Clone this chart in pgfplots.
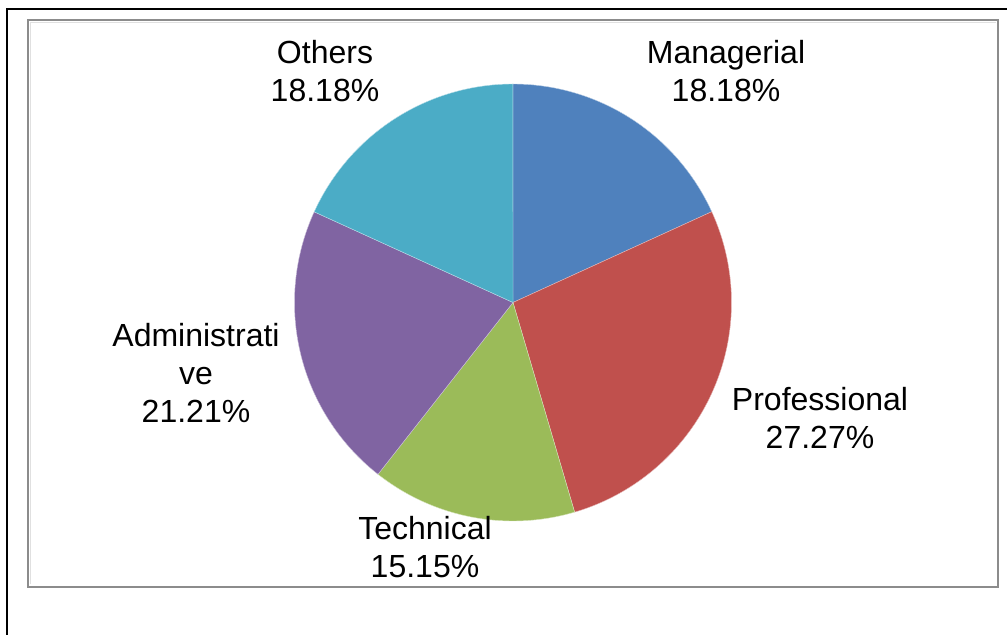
\documentclass[border=0pt]{standalone}
\usepackage{pgfplots}
\pgfplotsset{compat=1.18}
\usepackage{fontspec}
\setmainfont{Liberation Sans}
\definecolor{cMan}{HTML}{4F81BD}
\definecolor{cPro}{HTML}{C0504D}
\definecolor{cTec}{HTML}{9BBB59}
\definecolor{cAdm}{HTML}{8064A2}
\definecolor{cOth}{HTML}{4BACC6}
\definecolor{frame}{HTML}{8C8C8C}
% data (percent)
\def\vMan{18.18}
\def\vPro{27.27}
\def\vTec{15.15}
\def\vAdm{21.21}
\def\vOth{18.18}
\pgfmathsetmacro\aA{90}
\pgfmathsetmacro\aB{\aA-3.6*\vMan}
\pgfmathsetmacro\aC{\aB-3.6*\vPro}
\pgfmathsetmacro\aD{\aC-3.6*\vTec}
\pgfmathsetmacro\aE{\aD-3.6*\vAdm}
\pgfmathsetmacro\aF{\aE-3.6*\vOth}
\begin{document}
\begin{tikzpicture}
\useasboundingbox (0,0) rectangle (755.25pt,476.25pt);
\begin{axis}[
  at={(0,0)}, anchor=south west,
  scale only axis, width=755.25pt, height=476.25pt,
  xmin=0, xmax=1007, ymin=0, ymax=635,
  hide axis, clip=false,
]
% outer frame
\draw[black, line width=2pt] (axis cs:7,-20) -- (axis cs:7,626) -- (axis cs:1030,626);
% inner frame
\draw[frame, line width=1.5pt] (axis cs:28,48) rectangle (axis cs:998,615);
\draw[black!12, line width=0.75pt] (axis cs:30.5,50.5) -- (axis cs:30.5,612.5) -- (axis cs:995.5,612.5);
% slices
\def\cx{513}\def\cy{332.5}\def\r{218.5}
\addplot[fill=cMan, draw=white!60!cMan, line width=0.3pt, domain=\aB:\aA, samples=80] ({\cx+\r*cos(x)},{\cy+\r*sin(x)}) -- (axis cs:\cx,\cy) -- cycle;
\addplot[fill=cPro, draw=white!60!cPro, line width=0.3pt, domain=\aC:\aB, samples=100] ({\cx+\r*cos(x)},{\cy+\r*sin(x)}) -- (axis cs:\cx,\cy) -- cycle;
\addplot[fill=cTec, draw=white!60!cTec, line width=0.3pt, domain=\aD:\aC, samples=70] ({\cx+\r*cos(x)},{\cy+\r*sin(x)}) -- (axis cs:\cx,\cy) -- cycle;
\addplot[fill=cAdm, draw=white!60!cAdm, line width=0.3pt, domain=\aE:\aD, samples=80] ({\cx+\r*cos(x)},{\cy+\r*sin(x)}) -- (axis cs:\cx,\cy) -- cycle;
\addplot[fill=cOth, draw=white!60!cOth, line width=0.3pt, domain=\aF:\aE, samples=80] ({\cx+\r*cos(x)},{\cy+\r*sin(x)}) -- (axis cs:\cx,\cy) -- cycle;
% labels
\tikzset{lbl/.style={align=center, font=\fontsize{24}{28.5}\selectfont, inner sep=0pt}}
\node[lbl] at (axis cs:726,564) {Managerial\\18.18\%};
\node[lbl] at (axis cs:325,564) {Others\\18.18\%};
\node[lbl] at (axis cs:820,217) {Professional\\27.27\%};
\node[lbl] at (axis cs:425,88) {Technical\\15.15\%};
\node[lbl] at (axis cs:196,262) {Administrati\\ve\\21.21\%};
\end{axis}
\end{tikzpicture}
\end{document}
